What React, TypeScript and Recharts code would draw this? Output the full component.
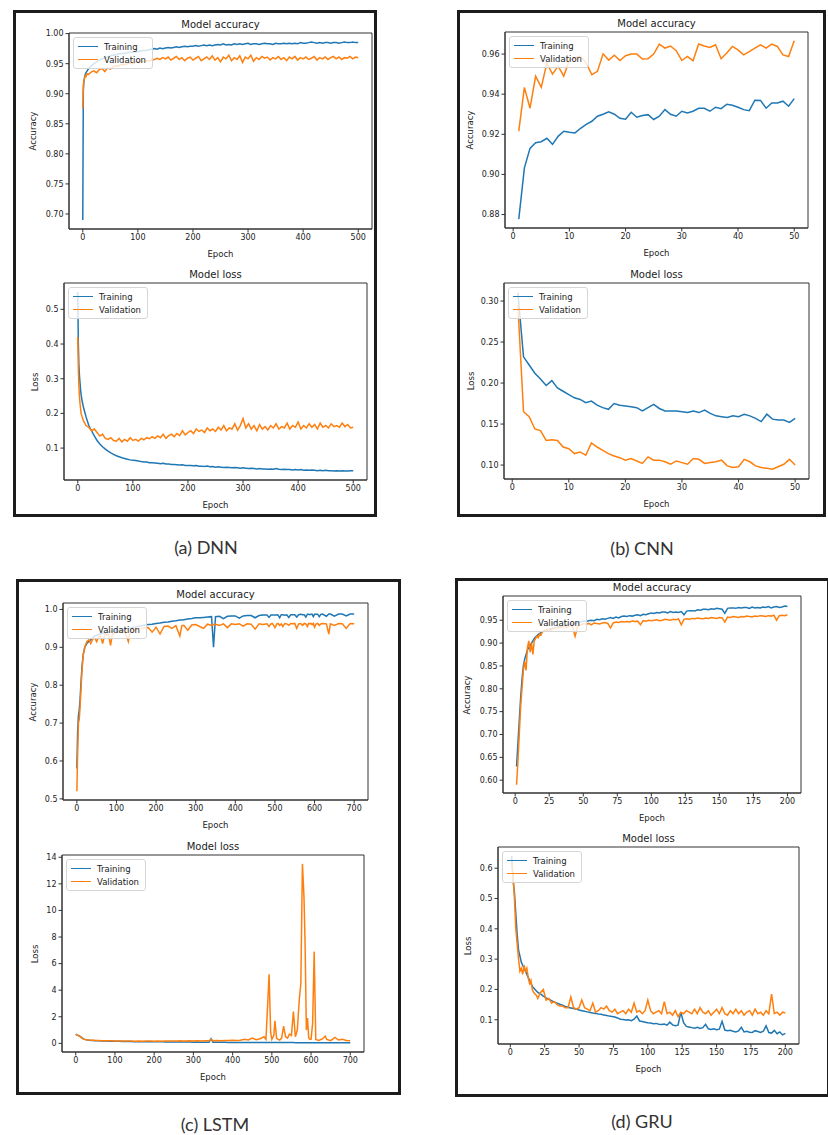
import { LineChart, Line, XAxis, YAxis, ReferenceArea, Legend } from "recharts";

// ---------- (a) DNN ----------
const dnnEpochs = [
  0, 1, 2, 3, 4, 5, 6, 8, 10, 15,
  20, 25, 30, 35, 40, 45, 50, 55, 60, 65,
  70, 75, 80, 85, 90, 95, 100, 105, 110, 115,
  120, 125, 130, 135, 140, 145, 150, 155, 160, 165,
  170, 175, 180, 185, 190, 195, 200, 205, 210, 215,
  220, 225, 230, 235, 240, 245, 250, 255, 260, 265,
  270, 275, 280, 285, 290, 295, 300, 305, 310, 315,
  320, 325, 330, 335, 340, 345, 350, 355, 360, 365,
  370, 375, 380, 385, 390, 395, 400, 405, 410, 415,
  420, 425, 430, 435, 440, 445, 450, 455, 460, 465,
  470, 475, 480, 485, 490, 495, 500,
];
const dnnTrainAcc = [
  0.69, 0.905, 0.92, 0.926, 0.93, 0.933, 0.935, 0.938, 0.941, 0.946,
  0.95, 0.953, 0.956, 0.958, 0.96, 0.961, 0.963, 0.964, 0.965, 0.966,
  0.967, 0.967, 0.968, 0.969, 0.969, 0.97, 0.97, 0.971, 0.972, 0.972,
  0.973, 0.974, 0.975, 0.974, 0.976, 0.975, 0.976, 0.977, 0.976, 0.977,
  0.978, 0.977, 0.978, 0.979, 0.978, 0.979, 0.979, 0.98, 0.979, 0.98,
  0.981, 0.98, 0.981, 0.98, 0.981, 0.982, 0.981, 0.983, 0.981, 0.982,
  0.981, 0.983, 0.982, 0.983, 0.982, 0.983, 0.984, 0.982, 0.983, 0.983,
  0.982, 0.983, 0.984, 0.983, 0.983, 0.982, 0.984, 0.983, 0.983, 0.984,
  0.983, 0.984, 0.983, 0.984, 0.983, 0.985, 0.984, 0.984, 0.985, 0.986,
  0.985, 0.984, 0.985, 0.984, 0.985, 0.985, 0.984, 0.985, 0.985, 0.984,
  0.985, 0.986, 0.985, 0.985, 0.986, 0.985, 0.985,
];
const dnnValAcc = [
  0.875, 0.915, 0.922, 0.925, 0.928, 0.93, 0.929, 0.933, 0.932, 0.936,
  0.938, 0.935, 0.94, 0.942, 0.937, 0.943, 0.941, 0.945, 0.947, 0.946,
  0.949, 0.948, 0.95, 0.951, 0.95, 0.952, 0.953, 0.952, 0.954, 0.955,
  0.954, 0.956, 0.957, 0.959, 0.957, 0.96, 0.958, 0.961, 0.956, 0.959,
  0.962, 0.957, 0.96, 0.955, 0.959, 0.961, 0.956, 0.959, 0.962, 0.955,
  0.958, 0.961, 0.957, 0.963, 0.956, 0.96, 0.953, 0.961, 0.958, 0.964,
  0.955, 0.96, 0.957, 0.963, 0.952, 0.961, 0.958, 0.964, 0.954, 0.96,
  0.957, 0.962, 0.959, 0.961, 0.956, 0.96, 0.958, 0.962, 0.957, 0.96,
  0.955, 0.961, 0.958, 0.962, 0.956, 0.96, 0.958, 0.961, 0.957, 0.959,
  0.962, 0.956, 0.96, 0.958, 0.961, 0.957, 0.96, 0.962, 0.958, 0.961,
  0.957, 0.96, 0.959, 0.962, 0.958, 0.961, 0.96,
];
const dnnTrainLoss = [
  0.55, 0.4, 0.34, 0.31, 0.29, 0.27, 0.255, 0.235, 0.22, 0.19,
  0.165, 0.15, 0.135, 0.122, 0.112, 0.104, 0.097, 0.091, 0.086, 0.082,
  0.078, 0.075, 0.072, 0.07, 0.068, 0.066, 0.065, 0.064, 0.063, 0.061,
  0.06, 0.06, 0.058, 0.058, 0.057, 0.056, 0.055, 0.056, 0.054, 0.054,
  0.053, 0.053, 0.052, 0.051, 0.052, 0.05, 0.05, 0.05, 0.049, 0.05,
  0.048, 0.048, 0.047, 0.048, 0.046, 0.047, 0.045, 0.046, 0.045, 0.044,
  0.045, 0.044, 0.043, 0.044, 0.043, 0.042, 0.043, 0.042, 0.041, 0.042,
  0.041, 0.04, 0.041, 0.04, 0.04, 0.039, 0.04, 0.039, 0.041, 0.039,
  0.038, 0.039, 0.038, 0.038, 0.037, 0.038, 0.037, 0.038, 0.036, 0.037,
  0.036, 0.037, 0.036, 0.035, 0.036, 0.035, 0.036, 0.035, 0.035, 0.034,
  0.035, 0.034, 0.035, 0.034, 0.034, 0.035, 0.035,
];
const dnnValLoss = [
  0.42, 0.33, 0.28, 0.25, 0.23, 0.215, 0.2, 0.19, 0.18, 0.165,
  0.16, 0.15, 0.155, 0.145, 0.135, 0.14, 0.128, 0.125, 0.13, 0.122,
  0.12, 0.128, 0.118, 0.125, 0.12, 0.13, 0.122, 0.125, 0.12, 0.128,
  0.124, 0.13, 0.127, 0.133, 0.128, 0.135, 0.13, 0.14, 0.128, 0.136,
  0.14, 0.133, 0.142, 0.136, 0.15, 0.138, 0.145, 0.15, 0.142, 0.155,
  0.148, 0.152, 0.145, 0.158, 0.15, 0.155, 0.148, 0.16, 0.152, 0.165,
  0.15, 0.158, 0.155, 0.17, 0.152, 0.165, 0.185, 0.158, 0.17, 0.155,
  0.165, 0.15, 0.168, 0.155, 0.162, 0.152, 0.165, 0.158, 0.17, 0.155,
  0.162, 0.158, 0.172, 0.155, 0.165, 0.16, 0.175, 0.155, 0.165, 0.158,
  0.17, 0.16, 0.168, 0.155, 0.172, 0.16, 0.165, 0.158, 0.17, 0.162,
  0.165, 0.16, 0.172, 0.162, 0.168, 0.158, 0.16,
];

// ---------- (b) CNN ----------
const cnnEpochs = [
  1, 2, 3, 4, 5, 6, 7, 8, 9, 10,
  11, 12, 13, 14, 15, 16, 17, 18, 19, 20,
  21, 22, 23, 24, 25, 26, 27, 28, 29, 30,
  31, 32, 33, 34, 35, 36, 37, 38, 39, 40,
  41, 42, 43, 44, 45, 46, 47, 48, 49, 50,
];
const cnnTrainAcc = [
  0.8777, 0.9033, 0.913, 0.9158, 0.9163, 0.918, 0.915, 0.919, 0.9215, 0.921,
  0.9207, 0.923, 0.925, 0.9265, 0.929, 0.93, 0.9312, 0.93, 0.928, 0.9275,
  0.931, 0.9285, 0.9294, 0.9298, 0.9274, 0.929, 0.9323, 0.93, 0.929, 0.9315,
  0.9307, 0.9315, 0.933, 0.933, 0.9315, 0.9335, 0.9328, 0.935, 0.9345, 0.9335,
  0.9323, 0.9318, 0.937, 0.9369, 0.933, 0.9356, 0.9356, 0.9365, 0.934, 0.9378,
];
const cnnValAcc = [
  0.9216, 0.9434, 0.933, 0.949, 0.9434, 0.9555, 0.95, 0.954, 0.949, 0.957,
  0.958, 0.959, 0.9555, 0.9497, 0.9514, 0.9601, 0.957, 0.9594, 0.9568, 0.9592,
  0.96, 0.96, 0.9575, 0.9577, 0.96, 0.965, 0.963, 0.964, 0.9617, 0.9568,
  0.9588, 0.9567, 0.965, 0.964, 0.9633, 0.9646, 0.9577, 0.9605, 0.9638, 0.9621,
  0.9596, 0.9612, 0.963, 0.9646, 0.963, 0.965, 0.9638, 0.9596, 0.9588, 0.9666,
];
const cnnTrainLoss = [
  0.31, 0.232, 0.222, 0.212, 0.205, 0.197, 0.203, 0.194, 0.19, 0.186,
  0.182, 0.18, 0.176, 0.178, 0.173, 0.17, 0.168, 0.175, 0.173, 0.172,
  0.171, 0.17, 0.166, 0.17, 0.174, 0.169, 0.166, 0.166, 0.166, 0.165,
  0.164, 0.166, 0.164, 0.167, 0.163, 0.16, 0.159, 0.158, 0.16, 0.159,
  0.162, 0.16, 0.157, 0.153, 0.162, 0.156, 0.155, 0.155, 0.152, 0.157,
];
const cnnValLoss = [
  0.295, 0.165, 0.159, 0.144, 0.142, 0.13, 0.131, 0.13, 0.122, 0.12,
  0.114, 0.116, 0.112, 0.127, 0.122, 0.118, 0.114, 0.111, 0.109, 0.106,
  0.108, 0.105, 0.102, 0.11, 0.106, 0.106, 0.104, 0.101, 0.105, 0.103,
  0.101, 0.108, 0.107, 0.102, 0.103, 0.104, 0.106, 0.099, 0.097, 0.098,
  0.107, 0.104, 0.099, 0.097, 0.096, 0.095, 0.098, 0.101, 0.107, 0.1,
];

// ---------- (c) LSTM ----------
const lstmEpochs = [
  0, 2, 4, 6, 8, 10, 13, 16, 20, 25,
  30, 35, 40, 45, 50, 55, 60, 65, 70, 80,
  85, 90, 100, 110, 120, 130, 135, 140, 150, 160,
  170, 180, 190, 200, 210, 220, 230, 240, 250, 260,
  265, 270, 280, 290, 300, 310, 320, 330, 340, 345,
  350, 360, 370, 380, 390, 400, 410, 420, 430, 440,
  450, 460, 470, 480, 485, 490, 493, 497, 500, 505,
  508, 512, 516, 520, 525, 530, 535, 540, 545, 550,
  555, 560, 565, 570, 574, 578, 582, 585, 588, 591,
  594, 597, 600, 604, 608, 612, 616, 620, 630, 636,
  640, 650, 661, 670, 680, 690, 700,
];
const lstmTrainAcc = [
  0.58, 0.68, 0.72, 0.735, 0.76, 0.8, 0.85, 0.88, 0.9, 0.91,
  0.915, 0.92, 0.925, 0.93, 0.932, 0.934, 0.935, 0.937, 0.938, 0.94,
  0.941, 0.942, 0.944, 0.946, 0.948, 0.95, 0.951, 0.952, 0.954, 0.956,
  0.958, 0.96, 0.961, 0.963, 0.964, 0.966, 0.967, 0.969, 0.97, 0.972,
  0.972, 0.973, 0.975, 0.976, 0.978, 0.978, 0.979, 0.98, 0.981, 0.9,
  0.981, 0.982, 0.976, 0.982, 0.983, 0.983, 0.977, 0.983, 0.984, 0.984,
  0.978, 0.984, 0.985, 0.985, 0.979, 0.985, 0.985, 0.985, 0.985, 0.986,
  0.985, 0.978, 0.986, 0.986, 0.985, 0.986, 0.979, 0.986, 0.986, 0.986,
  0.98, 0.986, 0.987, 0.986, 0.986, 0.98, 0.987, 0.987, 0.986, 0.987,
  0.987, 0.981, 0.987, 0.987, 0.987, 0.981, 0.987, 0.988, 0.982, 0.988,
  0.988, 0.982, 0.988, 0.988, 0.983, 0.988, 0.988,
];
const lstmValAcc = [
  0.52, 0.62, 0.7, 0.71, 0.74, 0.78, 0.84, 0.88, 0.9, 0.915,
  0.92, 0.91, 0.922, 0.925, 0.915, 0.928, 0.93, 0.91, 0.932, 0.935,
  0.905, 0.936, 0.94, 0.942, 0.944, 0.915, 0.945, 0.946, 0.948, 0.95,
  0.951, 0.952, 0.94, 0.953, 0.935, 0.955, 0.956, 0.95, 0.957, 0.93,
  0.957, 0.958, 0.945, 0.959, 0.96, 0.955, 0.95, 0.961, 0.958, 0.96,
  0.961, 0.958, 0.962, 0.952, 0.962, 0.96, 0.962, 0.956, 0.962, 0.961,
  0.948, 0.962, 0.96, 0.962, 0.955, 0.962, 0.963, 0.958, 0.952, 0.962,
  0.963, 0.958, 0.962, 0.955, 0.963, 0.962, 0.958, 0.963, 0.962, 0.963,
  0.95, 0.962, 0.963, 0.958, 0.963, 0.962, 0.955, 0.963, 0.962, 0.963,
  0.96, 0.963, 0.953, 0.962, 0.963, 0.958, 0.962, 0.963, 0.962, 0.935,
  0.962, 0.958, 0.963, 0.962, 0.95, 0.963, 0.962,
];
const lstmTrainLoss = [
  0.68, 0.65, 0.62, 0.6, 0.57, 0.54, 0.48, 0.42, 0.34, 0.28,
  0.25, 0.23, 0.22, 0.21, 0.2, 0.195, 0.19, 0.185, 0.18, 0.17,
  0.165, 0.16, 0.155, 0.15, 0.145, 0.14, 0.138, 0.135, 0.13, 0.128,
  0.125, 0.122, 0.12, 0.118, 0.115, 0.112, 0.11, 0.108, 0.105, 0.102,
  0.1, 0.098, 0.095, 0.093, 0.09, 0.088, 0.086, 0.084, 0.082, 0.35,
  0.08, 0.078, 0.076, 0.075, 0.074, 0.072, 0.071, 0.07, 0.069, 0.068,
  0.067, 0.066, 0.065, 0.064, 0.064, 0.063, 0.063, 0.062, 0.062, 0.061,
  0.061, 0.06, 0.06, 0.059, 0.059, 0.058, 0.058, 0.057, 0.057, 0.056,
  0.056, 0.055, 0.055, 0.055, 0.054, 0.054, 0.053, 0.053, 0.053, 0.052,
  0.052, 0.052, 0.051, 0.051, 0.051, 0.05, 0.05, 0.05, 0.049, 0.049,
  0.048, 0.048, 0.047, 0.047, 0.046, 0.046, 0.045,
];
const lstmValLoss = [
  0.7, 0.66, 0.62, 0.6, 0.56, 0.52, 0.46, 0.4, 0.32, 0.28,
  0.26, 0.25, 0.24, 0.23, 0.22, 0.215, 0.21, 0.205, 0.2, 0.195,
  0.19, 0.2, 0.185, 0.18, 0.175, 0.178, 0.172, 0.17, 0.168, 0.172,
  0.165, 0.17, 0.175, 0.168, 0.172, 0.165, 0.175, 0.17, 0.178, 0.172,
  0.2, 0.18, 0.175, 0.19, 0.185, 0.195, 0.18, 0.2, 0.19, 0.3,
  0.2, 0.21, 0.195, 0.22, 0.21, 0.23, 0.215, 0.24, 0.3, 0.25,
  0.4, 0.28, 0.35, 0.5, 0.3, 3.3, 5.2, 0.8, 0.3, 0.6,
  1.7, 0.4, 0.3, 0.25, 0.4, 1.3, 0.5, 0.4, 0.7, 0.6,
  2.4, 0.5, 1.0, 3.3, 4.5, 13.5, 11.0, 7.2, 1.0, 1.9,
  0.4, 0.3, 0.3, 1.5, 6.9, 0.3, 0.25, 0.22, 0.35, 0.55,
  0.3, 0.2, 0.45, 0.25, 0.3, 0.22, 0.2,
];

// ---------- (d) GRU ----------
const gruEpochs = [
  1, 2, 3, 4, 5, 6, 7, 8, 9, 10,
  11, 12, 13, 14, 15, 16, 17, 18, 19, 20,
  22, 24, 26, 28, 30, 32, 34, 36, 38, 40,
  42, 44, 46, 48, 50, 52, 54, 56, 58, 60,
  62, 64, 66, 68, 70, 72, 74, 76, 78, 80,
  82, 84, 86, 88, 90, 92, 94, 96, 98, 100,
  102, 104, 106, 108, 110, 112, 114, 116, 118, 120,
  122, 124, 126, 128, 130, 132, 134, 136, 138, 140,
  142, 144, 146, 148, 150, 152, 154, 156, 158, 160,
  162, 164, 166, 168, 170, 172, 174, 176, 178, 180,
  182, 184, 186, 188, 190, 192, 194, 196, 198, 200,
];
const gruTrainAcc = [
  0.63, 0.68, 0.73, 0.78, 0.82, 0.85, 0.865, 0.875, 0.885, 0.89,
  0.895, 0.9, 0.905, 0.91, 0.913, 0.916, 0.919, 0.921, 0.923, 0.925,
  0.927, 0.929, 0.931, 0.933, 0.934, 0.936, 0.937, 0.938, 0.94, 0.941,
  0.942, 0.943, 0.944, 0.946, 0.948, 0.947, 0.949, 0.95, 0.949, 0.952,
  0.951, 0.953, 0.952, 0.954, 0.956, 0.954, 0.957, 0.955, 0.958, 0.959,
  0.958, 0.96, 0.959, 0.961, 0.962, 0.96, 0.963, 0.962, 0.964, 0.966,
  0.965, 0.967, 0.966, 0.968, 0.968, 0.966, 0.969, 0.967, 0.968, 0.967,
  0.969, 0.962, 0.97, 0.971, 0.971, 0.97, 0.973, 0.972, 0.974, 0.974,
  0.973, 0.975, 0.974, 0.976, 0.975, 0.974, 0.965, 0.976, 0.977, 0.977,
  0.976, 0.978, 0.977, 0.978, 0.978, 0.976, 0.979, 0.977, 0.978, 0.977,
  0.979, 0.978, 0.98, 0.977, 0.979, 0.98, 0.978, 0.979, 0.981, 0.98,
];
const gruValAcc = [
  0.59, 0.64, 0.7, 0.76, 0.8, 0.84, 0.86, 0.84, 0.89, 0.905,
  0.88, 0.9, 0.875, 0.905, 0.91, 0.915, 0.912, 0.92, 0.918, 0.925,
  0.928, 0.93, 0.927, 0.932, 0.934, 0.933, 0.935, 0.936, 0.934, 0.938,
  0.937, 0.915, 0.938, 0.94, 0.942, 0.941, 0.943, 0.94, 0.944, 0.943,
  0.942, 0.944, 0.945, 0.943, 0.933, 0.944, 0.946, 0.945, 0.947, 0.946,
  0.947, 0.946, 0.948, 0.947, 0.948, 0.94, 0.949, 0.948, 0.95, 0.949,
  0.95, 0.951, 0.949, 0.95, 0.952, 0.951, 0.95, 0.952, 0.951, 0.953,
  0.94, 0.952, 0.953, 0.952, 0.954, 0.953, 0.955, 0.954, 0.953, 0.955,
  0.954, 0.956, 0.955, 0.954, 0.956, 0.955, 0.946, 0.957, 0.956, 0.958,
  0.957, 0.956, 0.958, 0.957, 0.959, 0.958, 0.957, 0.959, 0.958, 0.96,
  0.959, 0.958, 0.96, 0.959, 0.961, 0.95, 0.96, 0.961, 0.96, 0.962,
];
const gruTrainLoss = [
  0.64, 0.56, 0.52, 0.45, 0.38, 0.33, 0.31, 0.29, 0.28, 0.27,
  0.26, 0.25, 0.24, 0.23, 0.22, 0.21, 0.205, 0.2, 0.195, 0.19,
  0.185, 0.178, 0.172, 0.168, 0.163, 0.158, 0.155, 0.151, 0.148, 0.144,
  0.141, 0.139, 0.137, 0.135, 0.132, 0.13, 0.128, 0.126, 0.124, 0.122,
  0.121, 0.119, 0.118, 0.116, 0.114, 0.112, 0.111, 0.109, 0.106, 0.102,
  0.101, 0.099, 0.1, 0.097, 0.102, 0.112, 0.096, 0.094, 0.092, 0.09,
  0.089, 0.087, 0.088, 0.085, 0.084, 0.086, 0.082, 0.092, 0.083, 0.08,
  0.082, 0.125, 0.09, 0.078, 0.076, 0.074, 0.072, 0.075, 0.071, 0.074,
  0.085, 0.07, 0.068, 0.07, 0.067, 0.069, 0.095, 0.066, 0.064, 0.065,
  0.062, 0.06, 0.063, 0.075, 0.06, 0.062, 0.059, 0.058, 0.064, 0.061,
  0.058, 0.062, 0.08, 0.058, 0.056, 0.065, 0.054, 0.06, 0.05, 0.055,
];
const gruValLoss = [
  0.62, 0.58, 0.5, 0.4, 0.35, 0.3, 0.26, 0.27, 0.25, 0.28,
  0.26, 0.27, 0.24, 0.22, 0.23, 0.2, 0.19, 0.185, 0.18, 0.17,
  0.19, 0.2, 0.165, 0.17, 0.155, 0.16, 0.15, 0.145, 0.145, 0.14,
  0.14, 0.175, 0.14, 0.135, 0.14, 0.165, 0.14, 0.135, 0.13, 0.155,
  0.125, 0.13, 0.14, 0.135, 0.145, 0.13, 0.125, 0.135, 0.12, 0.125,
  0.13, 0.12, 0.135, 0.125, 0.155, 0.125, 0.13, 0.12, 0.13, 0.165,
  0.13, 0.12, 0.125, 0.13, 0.12, 0.16, 0.12, 0.125, 0.115, 0.13,
  0.11, 0.125, 0.12, 0.13, 0.125, 0.12, 0.135, 0.12, 0.14, 0.125,
  0.12, 0.13, 0.115, 0.125, 0.135, 0.12, 0.14, 0.12, 0.115, 0.13,
  0.12, 0.135, 0.12, 0.13, 0.115, 0.125, 0.13, 0.115, 0.135, 0.12,
  0.125, 0.115, 0.13, 0.12, 0.185, 0.12, 0.125, 0.115, 0.125, 0.122,
];

// ---------- ticks ----------
const dnnXTicks = [0, 100, 200, 300, 400, 500];
const dnnAccTicks = [0.7, 0.75, 0.8, 0.85, 0.9, 0.95, 1.0];
const dnnLossTicks = [0.1, 0.2, 0.3, 0.4, 0.5];
const cnnXTicks = [0, 10, 20, 30, 40, 50];
const cnnAccTicks = [0.88, 0.9, 0.92, 0.94, 0.96];
const cnnLossTicks = [0.1, 0.15, 0.2, 0.25, 0.3];
const lstmXTicks = [0, 100, 200, 300, 400, 500, 600, 700];
const lstmAccTicks = [0.5, 0.6, 0.7, 0.8, 0.9, 1.0];
const lstmLossTicks = [0, 2, 4, 6, 8, 10, 12, 14];
const gruXTicks = [0, 25, 50, 75, 100, 125, 150, 175, 200];
const gruAccTicks = [0.6, 0.65, 0.7, 0.75, 0.8, 0.85, 0.9, 0.95];
const gruLossTicks = [0.1, 0.2, 0.3, 0.4, 0.5, 0.6];

const mplFont = "'DejaVu Sans', sans-serif";
const ink = "#222";
const tickStyle = { fontSize: 8, fill: ink, fontFamily: mplFont };

type Box = { x: number; y: number; w: number; h: number };

interface PlotProps {
  box: Box;
  epochs: number[];
  train: number[];
  val: number[];
  xDomain: [number, number];
  xTicks: number[];
  yDomain: [number, number];
  yTicks: number[];
  digits: number;
  title: string;
  yLabel: string;
  yLabelGap: number;
}

const renderLegend = (props: any) => (
  <div
    style={{
      background: "rgba(255,255,255,0.8)",
      border: "1px solid #d6d6d6",
      borderRadius: 3,
      padding: "2px 6px 2px 4px",
      fontSize: 8.5,
      fontFamily: mplFont,
      color: ink,
    }}
  >
    {(props.payload || []).map((p: any) => (
      <div key={p.value} style={{ display: "flex", alignItems: "center", height: 13 }}>
        <span
          style={{
            display: "inline-block",
            width: 20,
            height: 0,
            borderTop: `1.5px solid ${p.color}`,
            marginRight: 6,
          }}
        />
        {p.value}
      </div>
    ))}
  </div>
);

function Plot({ box, epochs, train, val, xDomain, xTicks, yDomain, yTicks, digits, title, yLabel, yLabelGap }: PlotProps) {
  const rows = epochs.map((e, i) => ({ epoch: e, training: train[i], validation: val[i] }));
  const padL = 56;
  const padT = 20;
  const axisH = 28;
  const padB = 8;
  return (
    <>
      <div
        style={{
          position: "absolute",
          left: box.x,
          top: box.y - 14,
          width: box.w,
          textAlign: "center",
          fontSize: 10,
          lineHeight: "12px",
          fontFamily: mplFont,
          color: ink,
        }}
      >
        {title}
      </div>
      <div
        style={{
          position: "absolute",
          left: box.x - yLabelGap,
          top: box.y + box.h / 2,
          transform: "translate(-50%, -50%) rotate(-90deg)",
          fontSize: 8.5,
          fontFamily: mplFont,
          color: ink,
          whiteSpace: "nowrap",
        }}
      >
        {yLabel}
      </div>
      <div style={{ position: "absolute", left: box.x - padL, top: box.y - padT }}>
        <LineChart
          width={box.w + padL + 10}
          height={box.h + padT + axisH + padB}
          data={rows}
          margin={{ top: padT, right: 10, bottom: padB, left: padL - 40 }}
        >
          <XAxis
            dataKey="epoch"
            type="number"
            domain={xDomain}
            ticks={xTicks}
            allowDataOverflow
            interval={0}
            height={axisH}
            tick={tickStyle}
            tickSize={3.5}
            tickMargin={1.5}
            stroke="#333"
            label={{ value: "Epoch", position: "insideBottom", offset: 0, fontSize: 8.5, fill: ink, fontFamily: mplFont }}
          />
          <YAxis
            type="number"
            domain={yDomain}
            ticks={yTicks}
            allowDataOverflow
            interval={0}
            width={40}
            tick={tickStyle}
            tickSize={3.5}
            tickMargin={2}
            stroke="#333"
            tickFormatter={(v: number) => v.toFixed(digits)}
          />
          <Line
            dataKey="training"
            name="Training"
            type="linear"
            stroke="#1f77b4"
            strokeWidth={1.5}
            dot={false}
            isAnimationActive={false}
          />
          <Line
            dataKey="validation"
            name="Validation"
            type="linear"
            stroke="#ff7f0e"
            strokeWidth={1.5}
            dot={false}
            isAnimationActive={false}
          />
          <ReferenceArea
            x1={xDomain[0]}
            x2={xDomain[1]}
            y1={yDomain[0]}
            y2={yDomain[1]}
            fill="none"
            fillOpacity={0}
            stroke="#333"
            strokeWidth={1}
            ifOverflow="visible"
          />
          <Legend
            layout="vertical"
            align="center"
            verticalAlign="middle"
            wrapperStyle={{ left: padL + 4, top: padT + 4, width: "auto" }}
            content={renderLegend}
          />
        </LineChart>
      </div>
    </>
  );
}

const frame = (left: number, top: number, right: number, bottom: number) => ({
  position: "absolute" as const,
  left,
  top,
  width: right - left,
  height: bottom - top,
  border: "3px solid #1c1c1c",
  boxSizing: "border-box" as const,
});

const caption = (cx: number, cy: number) => ({
  position: "absolute" as const,
  left: cx - 60,
  top: cy - 12,
  width: 120,
  lineHeight: "24px",
  textAlign: "center" as const,
  fontSize: 18,
  fontFamily: "Lato, 'Open Sans', sans-serif",
  color: "#333",
});

export default function App() {
  return (
    <div style={{ position: "absolute", left: 0, top: 0, width: 828, height: 1135, background: "#fff", overflow: "hidden" }}>
      <div style={frame(13, 10, 377, 517)} />
      <div style={frame(457, 10, 826, 517)} />
      <div style={frame(16, 579, 401, 1095)} />
      <div style={frame(455, 578, 830, 1097)} />

      <Plot box={{ x: 69, y: 33, w: 303, h: 196 }} epochs={dnnEpochs} train={dnnTrainAcc} val={dnnValAcc}
        xDomain={[-25, 525]} xTicks={dnnXTicks} yDomain={[0.675, 1.001]} yTicks={dnnAccTicks} digits={2}
        title="Model accuracy" yLabel="Accuracy" yLabelGap={36} />
      <Plot box={{ x: 64, y: 283, w: 303, h: 197 }} epochs={dnnEpochs} train={dnnTrainLoss} val={dnnValLoss}
        xDomain={[-25, 525]} xTicks={dnnXTicks} yDomain={[0.008, 0.576]} yTicks={dnnLossTicks} digits={1}
        title="Model loss" yLabel="Loss" yLabelGap={29} />

      <Plot box={{ x: 505, y: 32, w: 303, h: 196 }} epochs={cnnEpochs} train={cnnTrainAcc} val={cnnValAcc}
        xDomain={[-1.45, 52.45]} xTicks={cnnXTicks} yDomain={[0.8733, 0.971]} yTicks={cnnAccTicks} digits={2}
        title="Model accuracy" yLabel="Accuracy" yLabelGap={35} />
      <Plot box={{ x: 504, y: 283, w: 305, h: 196 }} epochs={cnnEpochs} train={cnnTrainLoss} val={cnnValLoss}
        xDomain={[-1.45, 52.45]} xTicks={cnnXTicks} yDomain={[0.083, 0.322]} yTicks={cnnLossTicks} digits={2}
        title="Model loss" yLabel="Loss" yLabelGap={33} />

      <Plot box={{ x: 63, y: 603, w: 305, h: 197 }} epochs={lstmEpochs} train={lstmTrainAcc} val={lstmValAcc}
        xDomain={[-35, 735]} xTicks={lstmXTicks} yDomain={[0.497, 1.017]} yTicks={lstmAccTicks} digits={1}
        title="Model accuracy" yLabel="Accuracy" yLabelGap={30} />
      <Plot box={{ x: 62, y: 855, w: 302, h: 197 }} epochs={lstmEpochs} train={lstmTrainLoss} val={lstmValLoss}
        xDomain={[-35, 735]} xTicks={lstmXTicks} yDomain={[-0.65, 14.17]} yTicks={lstmLossTicks} digits={0}
        title="Model loss" yLabel="Loss" yLabelGap={27} />

      <Plot box={{ x: 503, y: 596, w: 298, h: 197 }} epochs={gruEpochs} train={gruTrainAcc} val={gruValAcc}
        xDomain={[-8.95, 209.95]} xTicks={gruXTicks} yDomain={[0.572, 1.003]} yTicks={gruAccTicks} digits={2}
        title="Model accuracy" yLabel="Accuracy" yLabelGap={36} />
      <Plot box={{ x: 498, y: 847, w: 301, h: 197 }} epochs={gruEpochs} train={gruTrainLoss} val={gruValLoss}
        xDomain={[-8.95, 209.95]} xTicks={gruXTicks} yDomain={[0.02, 0.67]} yTicks={gruLossTicks} digits={1}
        title="Model loss" yLabel="Loss" yLabelGap={30} />

      <div style={caption(206, 547)}>(a) DNN</div>
      <div style={caption(642, 548)}>(b) CNN</div>
      <div style={caption(215, 1124)}>(c) LSTM</div>
      <div style={caption(642, 1121)}>(d) GRU</div>
    </div>
  );
}
